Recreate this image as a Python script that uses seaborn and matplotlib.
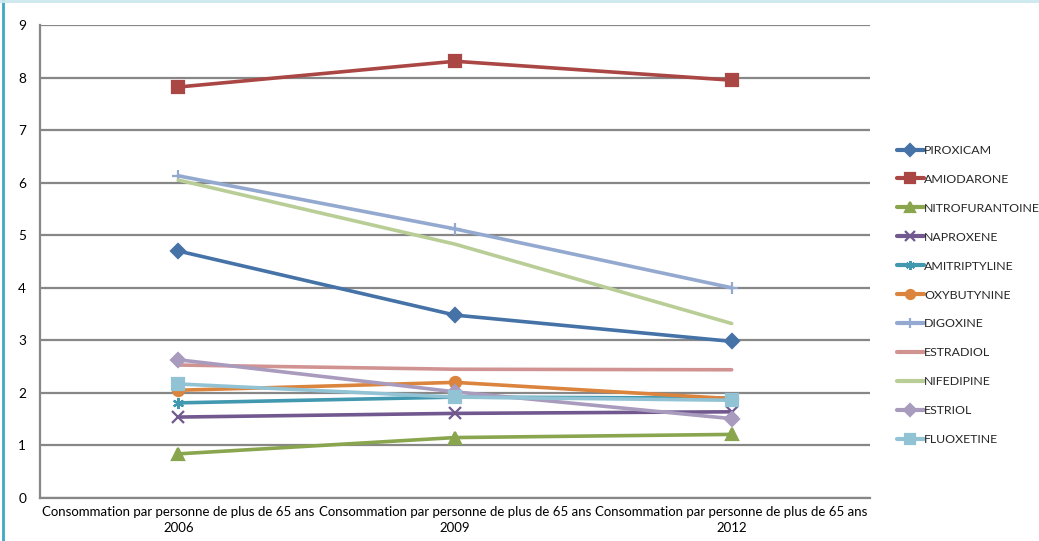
import matplotlib
matplotlib.use("Agg")
import matplotlib.pyplot as plt
from matplotlib.lines import Line2D
from matplotlib.ticker import FixedLocator
import seaborn as sns
import pandas as pd

# Survey years and the per-person consumption label used on the x axis
years = ["2006", "2009", "2012"]
x_labels = [f"Consommation par personne de plus de 65 ans\n{y}" for y in years]

drugs = ["PIROXICAM", "AMIODARONE", "NITROFURANTOINE", "NAPROXENE", "AMITRIPTYLINE",
         "OXYBUTYNINE", "DIGOXINE", "ESTRADIOL", "NIFEDIPINE", "ESTRIOL", "FLUOXETINE"]

piroxicam = [4.70, 3.48, 2.98]
amiodarone = [7.82, 8.31, 7.95]
nitrofurantoine = [0.84, 1.15, 1.21]
naproxene = [1.54, 1.61, 1.64]
amitriptyline = [1.81, 1.92, 1.90]
oxybutynine = [2.05, 2.20, 1.89]
digoxine = [6.13, 5.12, 4.00]
estradiol = [2.53, 2.45, 2.44]
nifedipine = [6.05, 4.83, 3.32]
estriol = [2.63, 2.02, 1.51]
fluoxetine = [2.17, 1.92, 1.86]

series = [piroxicam, amiodarone, nitrofurantoine, naproxene, amitriptyline,
          oxybutynine, digoxine, estradiol, nifedipine, estriol, fluoxetine]

colors = ["#4572A7", "#AA4643", "#89A54E", "#71588F", "#4198AF", "#DB843D",
          "#93A9CF", "#D19392", "#B9CD96", "#A99BBD", "#92C3D5"]
markers = ["D", "s", "^", "x", (6, 2, 0), "o", "+", None, None, "D", "s"]
msizes = [7, 8, 8, 8, 8, 8, 9, 0, 0, 7, 8]

rows = []
for name, vals in zip(drugs, series):
    for lab, v in zip(x_labels, vals):
        rows.append({"drug": name, "periode": lab, "valeur": v})
df = pd.DataFrame(rows)

sns.set_style("white")
plt.rcParams["font.family"] = ["Lato", "DejaVu Sans"]

fig = plt.figure(figsize=(10.39, 5.41), dpi=100)
ax = fig.add_axes([40 / 1039, 1 - 498 / 541, 830 / 1039, 473 / 541])

for name, col, mk, ms in zip(drugs, colors, markers, msizes):
    sub = df[df["drug"] == name]
    kw = dict(color=col, linewidth=2.6, label=name, ax=ax, sort=False)
    if mk is not None:
        kw.update(marker=mk, markersize=ms, markeredgecolor=col, markeredgewidth=1.6)
    sns.lineplot(data=sub, x="periode", y="valeur", **kw)

ax.set_xlim(-0.5, 2.5)
ax.set_ylim(0, 9)
ax.set_yticks(range(0, 10))
ax.set_xlabel("")
ax.set_ylabel("")

grid_col = "#878787"
ax.yaxis.grid(True, color=grid_col, linewidth=1.6)
ax.xaxis.grid(False)
ax.set_axisbelow(True)
for side in ["top", "right"]:
    ax.spines[side].set_visible(False)
for side in ["left", "bottom"]:
    ax.spines[side].set_color(grid_col)
    ax.spines[side].set_linewidth(1.6)

ax.xaxis.set_minor_locator(FixedLocator([-0.5, 0.5, 1.5, 2.5]))
ax.tick_params(axis="x", which="major", length=0, labelsize=9.5, pad=6, colors="#000000")
ax.tick_params(axis="x", which="minor", length=4, width=1.4, color=grid_col, direction="out")
ax.tick_params(axis="y", which="major", length=4, width=1.4, color=grid_col,
               direction="out", labelsize=9.8, pad=6, labelcolor="#000000")
for t in ax.get_xticklabels():
    t.set_linespacing(1.35)

leg = ax.legend(loc="upper left", bbox_to_anchor=(1.026, 0.757), frameon=False,
                fontsize=8.9, handlelength=2.2, handletextpad=0.05,
                labelspacing=1.45, borderaxespad=0)
for h in leg.legend_handles:
    h.set_linewidth(3)
    h.set_markersize(6.5)

# thin frame accents around the figure
fig.add_artist(Line2D([0.0025, 0.0025], [0, 1], transform=fig.transFigure,
                      color="#3FA9C4", linewidth=2))
fig.add_artist(Line2D([0, 1], [0.998, 0.998], transform=fig.transFigure,
                      color="#CBE8EF", linewidth=2))

fig.savefig("out.png", dpi=100)
